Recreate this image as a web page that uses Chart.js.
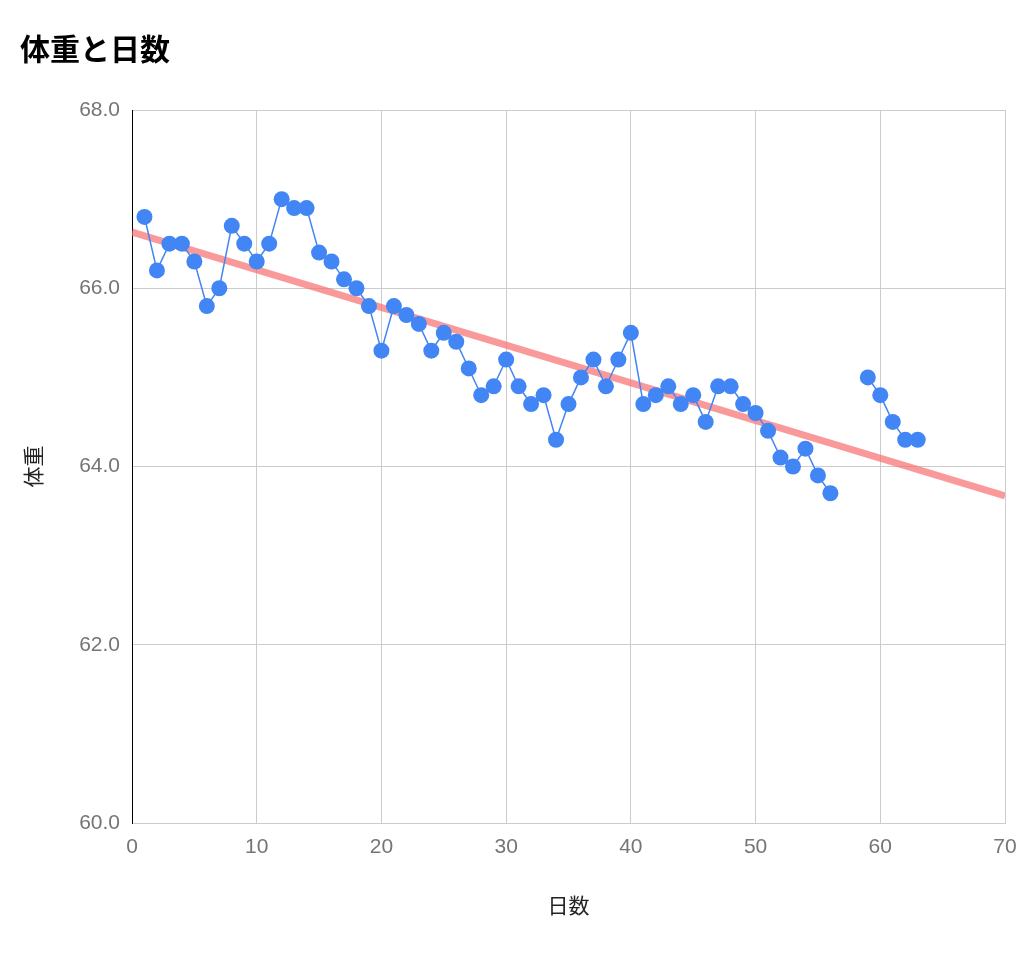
<!DOCTYPE html>
<html>
<head>
<meta charset="utf-8">
<script src="https://cdn.jsdelivr.net/npm/chart.js@4.4.1/dist/chart.umd.min.js"></script>
<style>
  html, body { margin: 0; padding: 0; background: #fff; }
  #wrap { width: 1024px; height: 959px; }
</style>
</head>
<body>
<div id="wrap"><canvas id="c"></canvas></div>
<script>
// 日数 / 体重 (57, 58 は欠測)
const days = [
  1, 2, 3, 4, 5, 6, 7, 8, 9, 10,
  11, 12, 13, 14, 15, 16, 17, 18, 19, 20,
  21, 22, 23, 24, 25, 26, 27, 28, 29, 30,
  31, 32, 33, 34, 35, 36, 37, 38, 39, 40,
  41, 42, 43, 44, 45, 46, 47, 48, 49, 50,
  51, 52, 53, 54, 55, 56, 57, 58, 59, 60,
  61, 62, 63
];
const weights = [
  66.8, 66.2, 66.5, 66.5, 66.3, 65.8, 66.0, 66.7, 66.5, 66.3,
  66.5, 67.0, 66.9, 66.9, 66.4, 66.3, 66.1, 66.0, 65.8, 65.3,
  65.8, 65.7, 65.6, 65.3, 65.5, 65.4, 65.1, 64.8, 64.9, 65.2,
  64.9, 64.7, 64.8, 64.3, 64.7, 65.0, 65.2, 64.9, 65.2, 65.5,
  64.7, 64.8, 64.9, 64.7, 64.8, 64.5, 64.9, 64.9, 64.7, 64.6,
  64.4, 64.1, 64.0, 64.2, 63.9, 63.7, null, null, 65.0, 64.8,
  64.5, 64.3, 64.3
];
// 近似直線 (両端)
const trendDays = [0, 70];
const trendWeights = [66.63, 63.67];

const xTicks = [0, 10, 20, 30, 40, 50, 60, 70];
const yTicks = [60, 62, 64, 66, 68];

const numFont = '"Liberation Sans", Arial, sans-serif';
const jpFont = '"Noto Sans CJK JP", sans-serif';

new Chart(document.getElementById('c'), {
  type: 'line',
  data: {
    datasets: [
      {
        label: '体重',
        data: days.map((d, i) => ({ x: d, y: weights[i] })),
        borderColor: '#4285f4',
        backgroundColor: '#4285f4',
        borderWidth: 1.5,
        pointRadius: 8,
        pointHoverRadius: 8,
        pointBorderWidth: 0,
        spanGaps: false,
        tension: 0,
        order: 1
      },
      {
        label: '近似曲線',
        data: trendDays.map((d, i) => ({ x: d, y: trendWeights[i] })),
        borderColor: 'rgba(248, 110, 110, 0.7)',
        borderWidth: 7,
        pointRadius: 0,
        tension: 0,
        order: 2
      }
    ]
  },
  options: {
    responsive: true,
    maintainAspectRatio: false,
    animation: false,
    layout: { padding: { left: 20, right: 19, top: 0, bottom: 0 } },
    plugins: {
      legend: { display: false },
      tooltip: { enabled: false },
      title: {
        display: true,
        text: '体重と日数',
        align: 'start',
        color: '#000',
        font: { family: jpFont, size: 30, weight: 'bold' },
        padding: { top: 31, bottom: 43 }
      }
    },
    scales: {
      x: {
        type: 'linear',
        min: 0,
        max: 70,
        afterBuildTicks: ax => { ax.ticks = xTicks.map(v => ({ value: v })); },
        afterFit: ax => { ax.height = 136; ax.paddingLeft = 0; ax.paddingRight = 0; },
        ticks: {
          color: '#757575',
          font: { family: numFont, size: 21 },
          padding: 12,
          maxRotation: 0
        },
        grid: { color: '#cccccc', lineWidth: 1, drawTicks: false },
        border: { color: '#cccccc', width: 1 },
        title: {
          display: true,
          text: '日数',
          color: '#222',
          font: { family: jpFont, size: 21 },
          padding: { top: 30, bottom: 41 }
        }
      },
      y: {
        min: 60,
        max: 68,
        afterBuildTicks: ax => { ax.ticks = yTicks.map(v => ({ value: v })); },
        afterFit: ax => { ax.width = 112; },
        ticks: {
          color: '#757575',
          font: { family: numFont, size: 21 },
          padding: 12,
          callback: v => v.toFixed(1)
        },
        grid: { color: '#cccccc', lineWidth: 1, drawTicks: false },
        border: { color: '#000', width: 1 },
        title: {
          display: true,
          text: '体重',
          color: '#222',
          font: { family: jpFont, size: 21 },
          padding: { top: 0, bottom: 0 }
        }
      }
    }
  }
});
</script>
</body>
</html>
